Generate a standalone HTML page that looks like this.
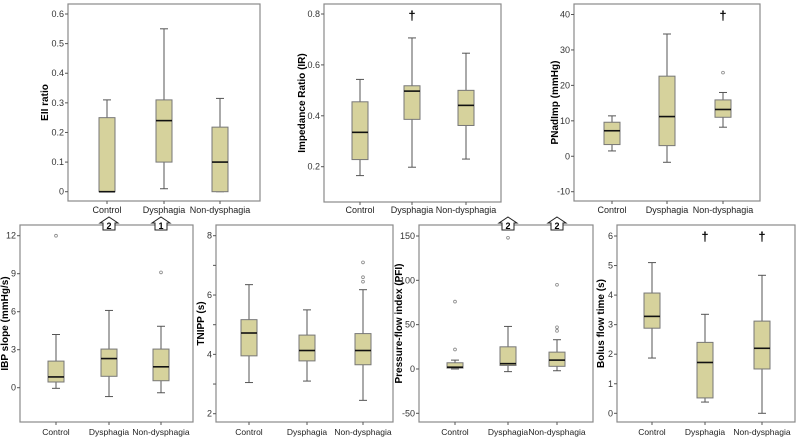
<!DOCTYPE html>
<html><head><meta charset="utf-8"><style>
html,body{margin:0;padding:0;background:#fff}
svg{display:block;font-family:"Liberation Sans",Arial,sans-serif}
</style></head><body>
<svg id="c" width="800" height="442" viewBox="0 0 800 442"></svg>
<script>
const categories = ["Control","Dysphagia","Non-dysphagia"];
// stats per panel: [min,q1,median,q3,max] for each category
const eiiStats = [[0,0,0,0.25,0.31],[0.01,0.1,0.24,0.31,0.55],[0,0,0.1,0.218,0.315]];
const irStats = [[0.165,0.228,0.335,0.455,0.543],[0.198,0.386,0.497,0.518,0.706],[0.23,0.362,0.441,0.50,0.646]];
const pnStats = [[1.5,3.3,7.2,9.6,11.4],[-1.7,3,11.2,22.6,34.5],[8.2,11,13.2,15.9,18]];
const ibpStats = [[-0.05,0.45,0.85,2.1,4.2],[-0.7,0.9,2.3,3.05,6.1],[-0.4,0.55,1.65,3.05,4.85]];
const tnippStats = [[3.05,3.95,4.72,5.17,6.35],[3.1,3.78,4.13,4.65,5.5],[2.45,3.65,4.13,4.7,6.18]];
const pfiStats = [[0,1,2,7,10],[-3,4,6,25,48],[-2,3,10,19,33]];
const bolusStats = [[1.87,2.88,3.28,4.07,5.1],[0.38,0.52,1.72,2.4,3.35],[0,1.5,2.2,3.12,4.67]];
// outliers
const pnOutliers = [[],[],[23.6]];
const ibpOutliers = [[12],[],[9.1]];
const tnippOutliers = [[],[],[6.45,6.6,7.1]];
const pfiOutliers = [[22,76],[148],[43,47,95]];
// tick labels
const eiiTicks = [0,0.1,0.2,0.3,0.4,0.5,0.6];
const irTicks = [0.2,0.4,0.6,0.8];
const pnTicks = [-10,0,10,20,30,40];
const ibpTicks = [0,3,6,9,12];
const tnippTicks = [2,4,6,8];
const tnippMinorTicks = [3,5,7];
const pfiTicks = [-50,0,50,100,150];
const bolusTicks = [0,1,2,3,4,5,6];
// annotations
const irDagger = [false,true,false];
const pnDagger = [false,false,true];
const bolusDagger = [false,true,true];
const ibpArrows = [null,"2","1"];
const pfiArrows = [null,"2","2"];

const NS="http://www.w3.org/2000/svg";
const svg=document.getElementById('c');
function mk(tag,attrs,parent,text){const e=document.createElementNS(NS,tag);for(const k in attrs)e.setAttribute(k,attrs[k]);if(text!==undefined)e.textContent=text;(parent||svg).appendChild(e);return e;}

const panels=[
 {id:"eii",title:"EII ratio",x0:68,x1:260,y0:4,y1:201,v0:0,p0:191.7,v1:0.6,p1:14,cx:[107,164,220],tx:48,stats:eiiStats,out:[[],[],[]],ticks:eiiTicks,minor:[],dec:1,dag:null,arr:null,ly:213,fs:9},
 {id:"ir",title:"Impedance Ratio (IR)",x0:324,x1:501,y0:4,y1:202,v0:0.2,p0:166.7,v1:0.8,p1:14,cx:[360,412,466],tx:305,stats:irStats,out:[[],[],[]],ticks:irTicks,minor:[],dec:1,dag:irDagger,arr:null,ly:213,fs:9},
 {id:"pnadimp",title:"PNadImp (mmHg)",x0:574,x1:760,y0:4,y1:201,v0:-10,p0:191.7,v1:40,p1:14.5,cx:[612,667,723],tx:558,stats:pnStats,out:pnOutliers,ticks:pnTicks,minor:[],dec:0,dag:pnDagger,arr:null,ly:213,fs:9},
 {id:"ibp",title:"IBP slope (mmHg/s)",x0:20,x1:193,y0:225,y1:422,v0:0,p0:387.7,v1:12,p1:235.7,cx:[56,109,161],tx:8,stats:ibpStats,out:ibpOutliers,ticks:ibpTicks,minor:[],dec:0,dag:null,arr:ibpArrows,ly:435,fs:8.5},
 {id:"tnipp",title:"TNIPP (s)",x0:216,x1:393,y0:225,y1:422,v0:2,p0:413.7,v1:8,p1:235.7,cx:[249,307,363],tx:204,stats:tnippStats,out:tnippOutliers,ticks:tnippTicks,minor:tnippMinorTicks,dec:0,dag:null,arr:null,ly:435,fs:8.5},
 {id:"pfi",title:"Pressure-flow index (PFI)",x0:419,x1:593,y0:225,y1:422,v0:-50,p0:413.3,v1:150,p1:236,cx:[455,508,557],tx:402,stats:pfiStats,out:pfiOutliers,ticks:pfiTicks,minor:[],dec:0,dag:null,arr:pfiArrows,ly:435,fs:8.5},
 {id:"bolus",title:"Bolus flow time (s)",x0:617,x1:795,y0:225,y1:422,v0:0,p0:413.3,v1:6,p1:236,cx:[652,705,762],tx:604,stats:bolusStats,out:[[],[],[]],ticks:bolusTicks,minor:[],dec:0,dag:bolusDagger,arr:null,ly:435,fs:8.5}
];

panels.forEach(P=>{
  const g=mk('g',{});
  
  
  const y=v=>P.p0+(v-P.v0)*(P.p1-P.p0)/(P.v1-P.v0);
  const fr=mk('rect',{x:P.x0,y:P.y0,width:P.x1-P.x0,height:P.y1-P.y0,fill:'none',stroke:'#8a8a8a','stroke-width':1.2},g);
  
  
  P.minor.forEach(t=>{const yy=y(t);mk('line',{x1:P.x0-3,x2:P.x0,y1:yy,y2:yy,stroke:'#555'},g);});
  P.ticks.forEach(t=>{
    const yy=y(t);
    mk('line',{x1:P.x0-3,x2:P.x0,y1:yy,y2:yy,stroke:'#555'},g);
    let lab=P.dec?(t===0?'0':t.toFixed(1)):String(t);
    const tl=mk('text',{x:P.x0-4,y:yy+3,'text-anchor':'end','font-size':9,fill:'#333'},g,lab);
    
    
  });
  const at=mk('text',{x:P.tx,y:(P.y0+P.y1)/2,'text-anchor':'middle','font-size':10,'font-weight':'bold',fill:'#000',transform:`rotate(-90 ${P.tx} ${(P.y0+P.y1)/2})`},g,P.title);
  
  
  categories.forEach((c,i)=>{
    const cx=P.cx[i], s=P.stats[i], w=8;
    mk('line',{x1:cx,x2:cx,y1:P.y1,y2:P.y1+3,stroke:'#555'},g);
    const xl=mk('text',{x:cx,y:P.ly,'text-anchor':'middle','font-size':P.fs,fill:'#222'},g,c);
    
    
    mk('line',{x1:cx,x2:cx,y1:y(s[0]),y2:y(s[4]),stroke:'#555','stroke-width':1},g);
    mk('line',{x1:cx-4,x2:cx+4,y1:y(s[0]),y2:y(s[0]),stroke:'#555'},g);
    mk('line',{x1:cx-4,x2:cx+4,y1:y(s[4]),y2:y(s[4]),stroke:'#555'},g);
    const b=mk('rect',{x:cx-w,y:y(s[3]),width:2*w,height:Math.max(0.5,y(s[1])-y(s[3])),fill:'#d6d29c',stroke:'#777','stroke-width':1},g);
    
    
    mk('line',{x1:cx-w,x2:cx+w,y1:y(s[2]),y2:y(s[2]),stroke:'#111','stroke-width':1.6},g);
    P.out[i].forEach(o=>{
      const oc=mk('circle',{cx:cx,cy:y(o),r:1.4,fill:'none',stroke:'#888','stroke-width':0.8},g);
      
      
    });
    if(P.dag&&P.dag[i]){
      const d=mk('text',{x:cx,y:P.y0+16,'text-anchor':'middle','font-size':13,'font-weight':'bold',fill:'#000'},g,'†');
      
      
    }
    if(P.arr&&P.arr[i]){
      const a=mk('g',{},g);
      
      
      mk('polygon',{points:`${cx},217 ${cx+9},223 ${cx+6},223 ${cx+6},230 ${cx-6},230 ${cx-6},223 ${cx-9},223`,fill:'#fff',stroke:'#222','stroke-width':1},a);
      mk('text',{x:cx,y:229,'text-anchor':'middle','font-size':9,'font-weight':'bold',fill:'#000'},a,P.arr[i]);
    }
  });
});
</script>
</body></html>
